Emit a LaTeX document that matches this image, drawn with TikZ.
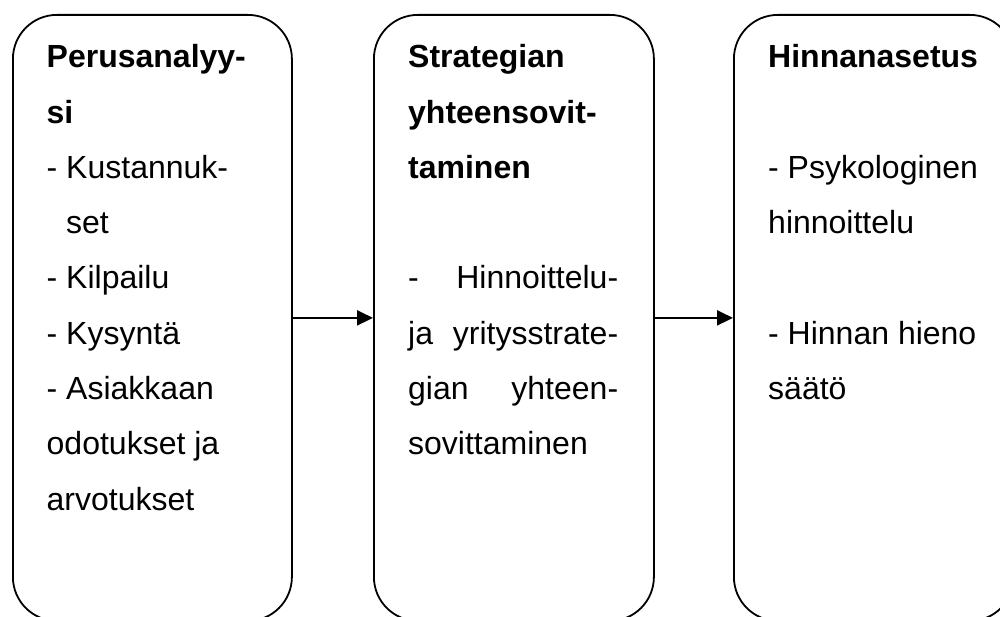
\documentclass[tikz,border=0pt]{standalone}
\usepackage{fontspec}
\setmainfont{Liberation Sans}
\usetikzlibrary{arrows.meta}
\begin{document}
\begin{tikzpicture}[x=1pt,y=-1pt,
  stage/.style={draw, line width=1.8pt, rounded corners=44pt, minimum width=280pt, minimum height=606pt, anchor=north west, inner sep=0pt},
  txt/.style={anchor=base west, inner sep=0pt, font=\fontsize{32pt}{38pt}\selectfont},
  head/.style={anchor=base west, inner sep=0pt, font=\fontsize{32pt}{38pt}\selectfont\bfseries},
  flow/.style={line width=2pt, -{Triangle[length=16pt,width=15pt]}}]
\useasboundingbox (0,0) rectangle (1000,617);
\clip (0,0) rectangle (1000,617);
% boxes
\node[stage, minimum width=279pt] (b1) at (12,14) {};
\node[stage] (b2) at (373,14) {};
\node[stage] (b3) at (733,14) {};
% arrows
\draw[flow] (b1.east) -- (b2.west);
\draw[flow] (b2.east) -- (b3.west);
% box 1 text
\node[head] (t11) at (46.5,68) {Perusanalyy-};
\node[head] (t12) at (46.5,123.25) {si};
\node[txt] (t13) at (46.5,178.5) {- Kustannuk-};
\node[txt] (t14) at (66,233.75) {set};
\node[txt] (t15) at (46.5,289) {- Kilpailu};
\node[txt] (t16) at (46.5,344.25) {- Kysyntä};
\node[txt] (t17) at (46.5,399.5) {- Asiakkaan};
\node[txt] (t18) at (46.5,454.75) {odotukset ja};
\node[txt] (t19) at (46.5,510) {arvotukset};
% box 2 text
\node[head] (t21) at (408,68) {Strategian};
\node[head] (t22) at (408,123.25) {yhteensovit-};
\node[head] (t23) at (408,178.5) {taminen};
\node[txt] (t25) at (408,289) {\hbox to 210pt{-\hfill Hinnoittelu-}};
\node[txt] (t26) at (408,344.25) {\hbox to 210pt{ja\hfill yritysstrate-}};
\node[txt] (t27) at (408,399.5) {\hbox to 210pt{gian\hfill yhteen-}};
\node[txt] (t28) at (408,454.75) {sovittaminen};
% box 3 text
\node[head] (t31) at (768,68) {Hinnanasetus};
\node[txt] (t33) at (768,178.5) {- Psykologinen};
\node[txt] (t34) at (768,233.75) {hinnoittelu};
\node[txt] (t36) at (768,344.25) {- Hinnan hieno};
\node[txt] (t37) at (768,399.5) {säätö};
\end{tikzpicture}
\end{document}
